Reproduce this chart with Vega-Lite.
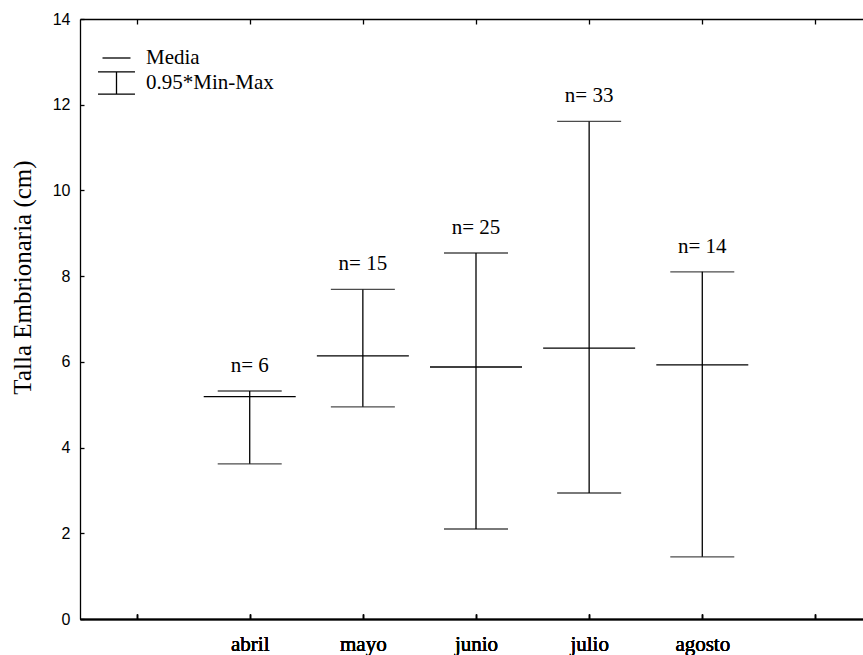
{
  "$schema": "https://vega.github.io/schema/vega-lite/v6.json",
  "width": 783,
  "height": 600,
  "autosize": "none",
  "padding": {"left": 80, "top": 19, "right": 0, "bottom": 36},
  "background": "white",
  "config": {
    "view": {"stroke": null},
    "axis": {"grid": false, "domainColor": "black", "tickColor": "black", "labelColor": "black", "titleColor": "black", "domainWidth": 1.3, "tickWidth": 1.3}
  },
  "data": {"values": [
    {"mes": "abril", "media": 5.19, "min": 3.62, "max": 5.32, "n": "n= 6"},
    {"mes": "mayo", "media": 6.14, "min": 4.95, "max": 7.69, "n": "n= 15"},
    {"mes": "junio", "media": 5.88, "min": 2.10, "max": 8.54, "n": "n= 25"},
    {"mes": "julio", "media": 6.32, "min": 2.94, "max": 11.61, "n": "n= 33"},
    {"mes": "agosto", "media": 5.93, "min": 1.45, "max": 8.10, "n": "n= 14"}
  ]},
  "encoding": {
    "x": {
      "field": "mes", "type": "nominal",
      "scale": {"type": "point", "domain": [" ", "abril", "mayo", "junio", "julio", "agosto", "  "], "padding": 0.5, "range": [0, 792]},
      "axis": {"orient": "bottom", "title": null, "labelAngle": 0, "labelFont": "Liberation Serif", "labelFontSize": 21, "labelFontWeight": "normal", "tickSize": -5, "labelPadding": 19}
    }
  },
  "layer": [
    {
      "mark": {"type": "rule", "color": "black", "strokeWidth": 1.3},
      "encoding": {
        "y": {
          "field": "min", "type": "quantitative",
          "scale": {"domain": [0, 14], "nice": false, "zero": true},
          "axis": {"values": [0, 2, 4, 6, 8, 10, 12, 14], "labelFont": "Liberation Sans", "labelFontSize": 16, "tickSize": -4, "labelPadding": 14,
                   "title": "Talla Embrionaria (cm)", "titleFont": "Liberation Serif", "titleFontSize": 25, "titleFontWeight": "normal",
                   "titleX": -58, "titleY": 258, "titleAlign": "center", "titleBaseline": "middle", "titleAngle": 270}
        },
        "y2": {"field": "max"}
      }
    },
    {
      "mark": {"type": "tick", "color": "black", "size": 64, "thickness": 1.3},
      "encoding": {"y": {"field": "min", "type": "quantitative"}}
    },
    {
      "mark": {"type": "tick", "color": "black", "size": 64, "thickness": 1.3},
      "encoding": {
        "y": {"field": "max", "type": "quantitative"},
        "x": {"field": "mes", "type": "nominal", "axis": {"orient": "top", "labels": false, "title": null, "tickSize": -5}}
      }
    },
    {
      "mark": {"type": "point", "filled": false, "color": "black", "strokeWidth": 1.3, "size": 8464, "opacity": 1},
      "encoding": {
        "y": {"field": "media", "type": "quantitative"},
        "shape": {
          "datum": "Media", "type": "nominal",
          "scale": {"domain": ["Media", "0.95*Min-Max"], "range": ["M-1,0H1", "M-1.32,-0.79H1.32M0,-0.79V0.79M-1.32,0.79H1.32"]},
          "legend": {"orient": "none", "legendX": 21.5, "legendY": 24, "direction": "vertical", "title": null, "symbolSize": 784,
                     "symbolStrokeColor": "black", "symbolStrokeWidth": 1.3, "symbolFillColor": "transparent", "symbolOpacity": 1,
                     "labelFont": "Liberation Serif", "labelFontSize": 21, "labelColor": "black", "labelOffset": 14.5, "rowPadding": 0, "padding": 0, "labelLimit": 300}
        }
      }
    },
    {
      "mark": {"type": "text", "dy": -19, "baseline": "alphabetic", "font": "Liberation Serif", "fontSize": 21, "color": "black"},
      "encoding": {
        "y": {"field": "max", "type": "quantitative"},
        "text": {"field": "n"}
      }
    }
  ]
}
